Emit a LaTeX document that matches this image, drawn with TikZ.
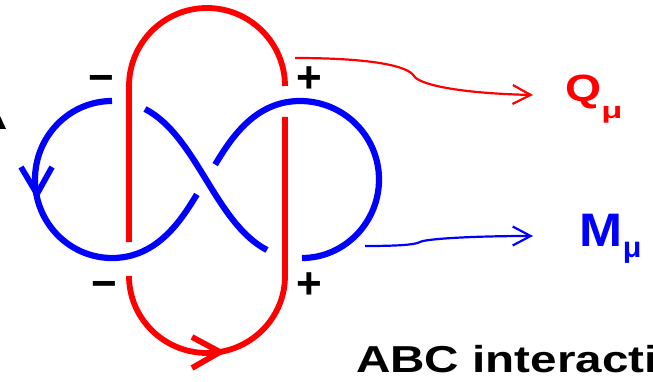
\documentclass[tikz,border=0pt]{standalone}
\usepackage{fontspec}
\setmainfont{Liberation Sans}
\usetikzlibrary{arrows.meta}
\definecolor{knotred}{RGB}{255,0,0}
\definecolor{knotblue}{RGB}{0,0,255}
\begin{document}
\begin{tikzpicture}[x=1pt,y=-1pt,
  redstrand/.style={draw=knotred, line width=5.8pt},
  bluestrand/.style={draw=knotblue, line width=6.2pt},
  barb/.style={line width=5.8pt, line join=miter},
  sign/.style={font=\fontsize{44}{44}\selectfont\bfseries, inner sep=0pt, anchor=base},
  leader/.style={line width=2.2pt, -{Straight Barb[length=18pt,width=19pt]}},
  label/.style={inner sep=0pt, anchor=base west, font=\bfseries},
]
\useasboundingbox (0,0) rectangle (653,382);

% ---- red component: upper arc with its two legs ----
\draw[redstrand] (129,242) -- (129,86)
  .. controls (129,43) and (164,8) .. (207,8)
  .. controls (250,8) and (285,43) .. (285,86);
\draw[redstrand] (285,117) -- (285,276)
  .. controls (285,318.5) and (250,353) .. (207,353)
  .. controls (164,353) and (129,318.5) .. (129,276);
% orientation mark on the lower arc
\draw[knotred, barb] (192,337) -- (220,352) -- (192,368);

% ---- blue component: figure eight ----
% left lobe and lower-left half of the under strand
\draw[bluestrand, shorten >=17.5pt] (112,101)
  .. controls (69.5,101) and (35,136.1) .. (35,179.5)
  .. controls (35,222.9) and (69.5,258) .. (112,258)
  .. controls (158,258) and (182,218.75) .. (206,179.5);
% upper-right half of the under strand and right lobe
\draw[bluestrand, shorten <=17.5pt] (206,179.5)
  .. controls (230,140.25) and (254,101) .. (300,101)
  .. controls (343.6,101) and (379,136.1) .. (379,179.5)
  .. controls (379,222.9) and (344,258) .. (302,258);
% over strand through the middle
\draw[bluestrand] (145,109) .. controls (197,136) and (215,223) .. (267,250);
% orientation mark on the left lobe
\draw[knotblue, barb] (21,167) -- (37,194) -- (52,167);

% ---- crossing signs ----
\node[sign] (s1) at (101.5,93) {−};
\node[sign] (s2) at (309,93) {+};
\node[sign] (s3) at (104,298) {−};
\node[sign] (s4) at (309,298) {+};

% ---- labels and their leaders ----
\node[label, text=knotred] (Q) at (565,102)
  {\fontsize{38}{38}\selectfont\scalebox{1.22}[1]{Q}\raisebox{-16.5pt}{\fontsize{23}{23}\selectfont\scalebox{1.5}[1]{μ}}};
\node[label, text=knotblue] (M) at (579.5,247)
  {\fontsize{47}{47}\selectfont\scalebox{1.1}[1]{M}\raisebox{-10pt}{\fontsize{29}{29}\selectfont\scalebox{1.05}[1]{μ}}};
\coordinate (qfrom) at (295,58);
\coordinate (qto) at (533,95);
\coordinate (mfrom) at (365,246);
\coordinate (mto) at (533,236);
\draw[knotred, leader] (qfrom) .. controls (372,58) and (408,66) .. (414,76)
  .. controls (418,83) and (450,93) .. (qto);
\draw[knotblue, leader] (mfrom) .. controls (395,246) and (415,245) .. (420,242)
  .. controls (425,239) and (470,236) .. (mto);

% ---- caption ----
\node[label] (title) at (356,372)
  {\fontsize{37.5}{40}\selectfont\scalebox{1.27}[1]{ABC interacti}};

% tip of a black arrowhead at the left border
\fill (0,116) -- (6,129) -- (0,129) -- cycle;
\end{tikzpicture}
\end{document}
